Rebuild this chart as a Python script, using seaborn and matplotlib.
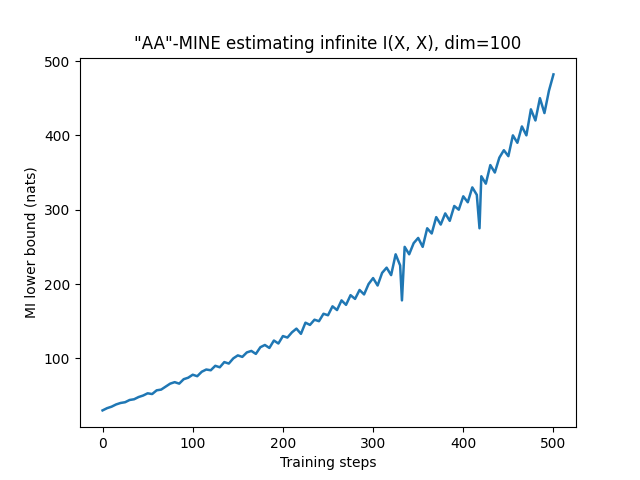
import matplotlib
matplotlib.use("Agg")
import matplotlib.pyplot as plt
import seaborn as sns
import pandas as pd

steps = [0,5,10,15,20,25,30,35,40,45,50,55,60,65,70,75,80,85,90,95,
         100,105,110,115,120,125,130,135,140,145,150,155,160,165,170,175,180,185,190,195,
         200,205,210,215,220,225,230,235,240,245,250,255,260,265,270,275,280,285,290,295,
         300,305,310,315,320,325,330,332,335,340,345,350,355,360,365,370,375,380,385,390,395,
         400,405,410,415,418,420,425,430,435,440,445,450,455,460,465,470,475,480,485,490,495,500]
mi = [30,33,35,38,40,41,44,45,48,50,53,52,57,58,62,66,68,66,72,74,
      78,76,82,85,84,90,88,95,93,100,104,102,108,110,106,115,118,114,124,120,
      130,128,135,140,133,148,145,152,150,160,158,170,165,178,172,185,180,192,186,200,
      208,198,215,222,212,240,225,178,250,240,255,262,250,275,268,290,280,295,285,305,300,
      318,310,330,320,275,345,335,360,350,370,380,372,400,390,412,400,435,420,450,430,460,482]

df = pd.DataFrame({"step": steps, "mi": mi})
fig, ax = plt.subplots(figsize=(6.4, 4.8), dpi=100)
sns.lineplot(data=df, x="step", y="mi", ax=ax, color="#1f77b4", linewidth=1.8)
ax.set_title('"AA"-MINE estimating infinite I(X, X), dim=100')
ax.set_xlabel("Training steps")
ax.set_ylabel("MI lower bound (nats)")
ax.set_yticks([100, 200, 300, 400, 500])
ax.set_xticks([0, 100, 200, 300, 400, 500])
fig.savefig("out.png")
